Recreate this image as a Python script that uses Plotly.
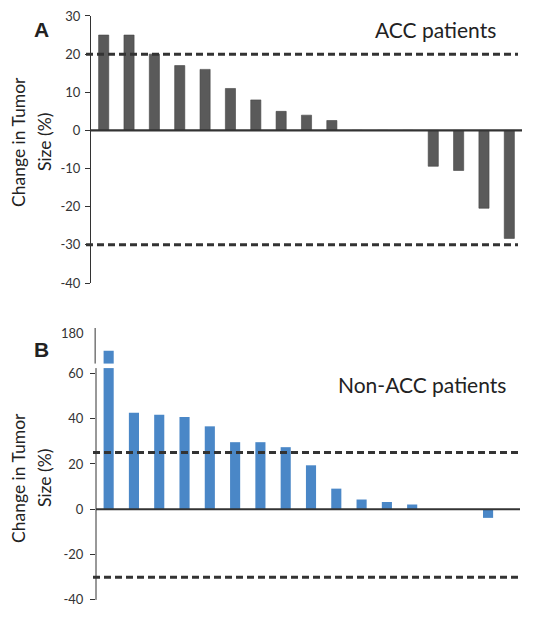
import plotly.graph_objects as go

# ---- data ----
patients = list(range(1, 18))
acc_change = [25, 25, 20, 17, 16, 11, 8, 5, 4, 2.6, 0, 0, 0, -9.4, -10.5, -20.4, -28.3]
# first Non-ACC bar is off-scale (axis is broken); drawn at its broken-axis height
nonacc_change = [70, 42.6, 41.7, 40.7, 36.6, 29.6, 29.6, 27.4, 19.4, 9.1, 4.3, 3.2, 2.1, 0, 0, -3.8, 0]
acc_thresholds = [20, -30]
nonacc_thresholds = [25, -30]
acc_ticks = [30, 20, 10, 0, -10, -20, -30, -40]
nonacc_ticks = [60, 40, 20, 0, -20, -40]
nonacc_break_label = "180"
nonacc_break = [62.3, 64.3]

# page body has an 8px margin; figure sized to fit inside the window
OFF = 8
W, H = 537 - 2 * OFF, 620 - 2 * OFF
FONT = "Lato"
INK = "#333333"


def px_x(p):
    return (p - OFF) / W


def px_y(p):
    return 1 - (p - OFF) / H


fig = go.Figure()
fig.add_trace(go.Bar(x=patients, y=acc_change, width=0.4,
                     marker=dict(color="#5a5a5a", line=dict(color="#444", width=0.6)),
                     xaxis="x", yaxis="y", showlegend=False))
fig.add_trace(go.Bar(x=patients, y=nonacc_change, width=0.4,
                     marker=dict(color="#4a87c7", line=dict(width=0)),
                     xaxis="x2", yaxis="y2", showlegend=False))

common_y = dict(showgrid=False, zeroline=False, ticks="outside", ticklen=5, tickcolor=INK, tickwidth=1,
                tickfont=dict(family=FONT, size=13, color=INK), automargin=False, fixedrange=True,
                ticklabeloverflow="allow")
common_x = dict(showgrid=False, zeroline=False, showticklabels=False, ticks="", showline=False,
                range=[0.5, 17.5], automargin=False)

fig.update_layout(
    width=W, height=H, margin=dict(l=0, r=0, t=0, b=0),
    paper_bgcolor="white", plot_bgcolor="rgba(0,0,0,0)",
    bargap=0.6,
    xaxis=dict(domain=[px_x(91), px_x(522)], anchor="y", **common_x),
    yaxis=dict(domain=[px_y(283.2), px_y(15.8)], anchor="x", range=[-40.05, 30.05], tickvals=acc_ticks,
               ticktext=[str(v) for v in acc_ticks],
               showline=True, linecolor=INK, linewidth=1, ticklabelstandoff=2, **common_y),
    xaxis2=dict(domain=[px_x(96), px_x(526)], anchor="y2", **common_x),
    yaxis2=dict(domain=[px_y(600), px_y(328)], anchor="x2", range=[-40.05, 80], tickvals=nonacc_ticks,
                ticktext=[str(v) for v in nonacc_ticks],
                showline=False, ticklabelstandoff=4, **common_y),
)

shapes = []
# top panel: zero line and thresholds
shapes.append(dict(type="line", xref="x domain", yref="y", x0=0, x1=1, y0=0, y1=0,
                   line=dict(color=INK, width=2.2), layer="above"))
for t in acc_thresholds:
    shapes.append(dict(type="line", xref="x domain", yref="y", x0=-5 / 431, x1=(518 - 91) / 431, y0=t, y1=t,
                       line=dict(color=INK, width=3, dash="7px,4px"), layer="above"))
# bottom panel
shapes.append(dict(type="line", xref="x2 domain", yref="y2", x0=0, x1=(520 - 96) / 430, y0=0, y1=0,
                   line=dict(color=INK, width=2.2), layer="above"))
for t in nonacc_thresholds:
    shapes.append(dict(type="line", xref="x2 domain", yref="y2", x0=-3 / 430, x1=(520 - 96) / 430, y0=t, y1=t,
                       line=dict(color=INK, width=3, dash="7px,4px"), layer="above"))
# broken y axis line (bottom)
shapes.append(dict(type="line", xref="x2 domain", yref="y2", x0=0, x1=0, y0=-40, y1=nonacc_break[0],
                   line=dict(color=INK, width=1)))
shapes.append(dict(type="line", xref="x2 domain", yref="y2", x0=-0.002, x1=-0.002, y0=nonacc_break[1], y1=80,
                   line=dict(color=INK, width=1)))
# break gap in first bar
shapes.append(dict(type="rect", xref="x2", yref="y2", x0=patients[0] - 0.3, x1=patients[0] + 0.3,
                   y0=nonacc_break[0], y1=nonacc_break[1], fillcolor="white", line=dict(width=0), layer="above"))
fig.update_layout(shapes=shapes)

ann = []
ann.append(dict(text=nonacc_break_label, xref="paper", yref="y2", x=px_x(96), y=77.6, xanchor="right",
                yanchor="middle", xshift=-10, showarrow=False, font=dict(family=FONT, size=13, color=INK)))
for (yc, letter) in [(30, "A"), (349, "B")]:
    ann.append(dict(text=f"<b>{letter}</b>", xref="paper", yref="paper", x=px_x(41), y=px_y(yc),
                    xanchor="center", yanchor="middle",
                    showarrow=False, font=dict(family="Liberation Sans", size=21, color="#222")))
ann.append(dict(text="ACC patients", xref="paper", yref="paper", x=px_x(435), y=px_y(30),
                xanchor="center", yanchor="middle",
                showarrow=False, font=dict(family=FONT, size=21, color="#222")))
ann.append(dict(text="Non-ACC patients", xref="paper", yref="paper", x=px_x(422), y=px_y(384),
                xanchor="center", yanchor="middle",
                showarrow=False, font=dict(family=FONT, size=21, color="#222")))
for (yc, lines) in [(142, ("Change in Tumor", "Size (%)")), (478, ("Change in Tumor", "Size (%)"))]:
    for xc, t in zip((18, 44), lines):
        ann.append(dict(text=t, xref="paper", yref="paper", x=px_x(xc), y=px_y(yc), textangle=-90,
                        xanchor="center", yanchor="middle",
                        showarrow=False, font=dict(family=FONT, size=17.5, color="#222")))
fig.update_layout(annotations=ann)

fig.write_html("out.html")
